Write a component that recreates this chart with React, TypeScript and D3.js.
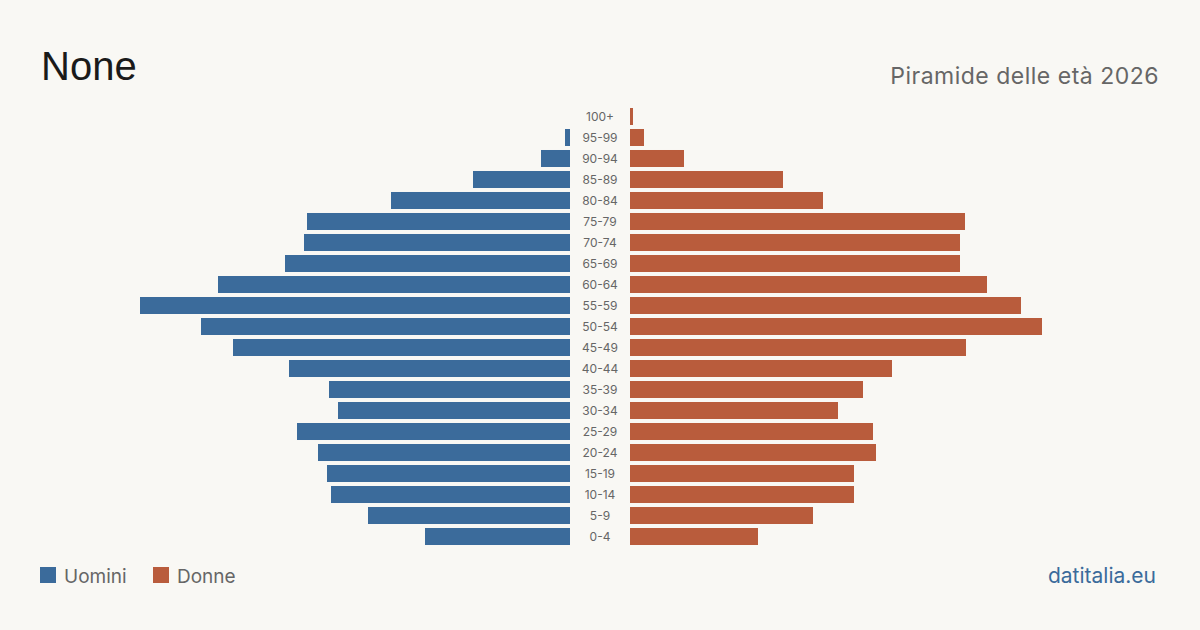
import { useEffect, useRef } from 'react';
import * as d3 from 'd3';

// age classes, oldest first (top of the pyramid)
const ageGroups = [
  '100+', '95-99', '90-94', '85-89', '80-84', '75-79', '70-74', '65-69', '60-64', '55-59',
  '50-54', '45-49', '40-44', '35-39', '30-34', '25-29', '20-24', '15-19', '10-14', '5-9', '0-4',
];
const men = [0, 5, 29, 97, 179, 263, 266, 285, 352, 430, 369, 337, 281, 241, 232, 273, 252, 243, 239, 202, 145];
const women = [3, 14, 54, 153, 193, 335, 330, 330, 357, 391, 412, 336, 262, 233, 208, 243, 246, 224, 224, 183, 128];

const BLUE = '#3b6b9b';
const ORANGE = '#b95c3c';
const GREY = '#666666';

function App() {
  const svgRef = useRef<SVGSVGElement>(null);

  useEffect(() => {
    if (!svgRef.current) return;
    const svg = d3.select(svgRef.current);
    svg.selectAll('*').remove();

    const width = 1200;
    const height = 630;
    const center = 600;
    const gap = 30;

    svg.append('rect').attr('width', width).attr('height', height).attr('fill', '#f9f8f4');

    const y = d3.scaleBand<string>()
      .domain(ageGroups)
      .range([106, 547])
      .paddingInner(4 / 21)
      .paddingOuter(0.095);

    const maxVal = d3.max([...men, ...women]) || 1;
    const x = d3.scaleLinear().domain([0, maxVal]).range([0, 430]);

    // men on the left
    svg.append('g')
      .selectAll('rect')
      .data(men)
      .enter()
      .append('rect')
      .attr('x', d => center - gap - x(d))
      .attr('y', (_, i) => y(ageGroups[i]) || 0)
      .attr('width', d => x(d))
      .attr('height', y.bandwidth())
      .attr('fill', BLUE);

    // women on the right
    svg.append('g')
      .selectAll('rect')
      .data(women)
      .enter()
      .append('rect')
      .attr('x', center + gap)
      .attr('y', (_, i) => y(ageGroups[i]) || 0)
      .attr('width', d => x(d))
      .attr('height', y.bandwidth())
      .attr('fill', ORANGE);

    // age labels in the middle
    svg.append('g')
      .selectAll('text')
      .data(ageGroups)
      .enter()
      .append('text')
      .attr('x', center)
      .attr('y', d => (y(d) || 0) + y.bandwidth() / 2)
      .attr('dy', '0.35em')
      .attr('text-anchor', 'middle')
      .attr('font-family', 'Inter, sans-serif')
      .attr('font-size', 12)
      .attr('fill', GREY)
      .text(d => d);

    // title + subtitle
    svg.append('text')
      .attr('x', 41)
      .attr('y', 80)
      .attr('font-family', '"Liberation Sans", Arial, sans-serif')
      .attr('font-size', 40)
      .attr('fill', '#1a1a1a')
      .text('None');

    svg.append('text')
      .attr('x', 1159)
      .attr('y', 84)
      .attr('text-anchor', 'end')
      .attr('font-family', 'Inter, sans-serif')
      .attr('font-size', 23)
      .attr('letter-spacing', 0.5)
      .attr('fill', GREY)
      .text('Piramide delle età 2026');

    // legend
    const legend = [
      { label: 'Uomini', color: BLUE, x: 40 },
      { label: 'Donne', color: ORANGE, x: 153 },
    ];
    const lg = svg.append('g').selectAll('g').data(legend).enter().append('g');
    lg.append('rect')
      .attr('x', d => d.x)
      .attr('y', 567)
      .attr('width', 16)
      .attr('height', 16)
      .attr('fill', d => d.color);
    lg.append('text')
      .attr('x', d => d.x + 24)
      .attr('y', 583)
      .attr('font-family', 'Inter, sans-serif')
      .attr('font-size', 19)
      .attr('fill', GREY)
      .text(d => d.label);

    svg.append('text')
      .attr('x', 1156)
      .attr('y', 583)
      .attr('text-anchor', 'end')
      .attr('font-family', 'Inter, sans-serif')
      .attr('font-size', 21)
      .attr('fill', BLUE)
      .text('datitalia.eu');
  }, []);

  return (
    <svg
      ref={svgRef}
      width={1200}
      height={630}
      style={{ position: 'fixed', left: 0, top: 0, display: 'block' }}
    />
  );
}

export default App;
